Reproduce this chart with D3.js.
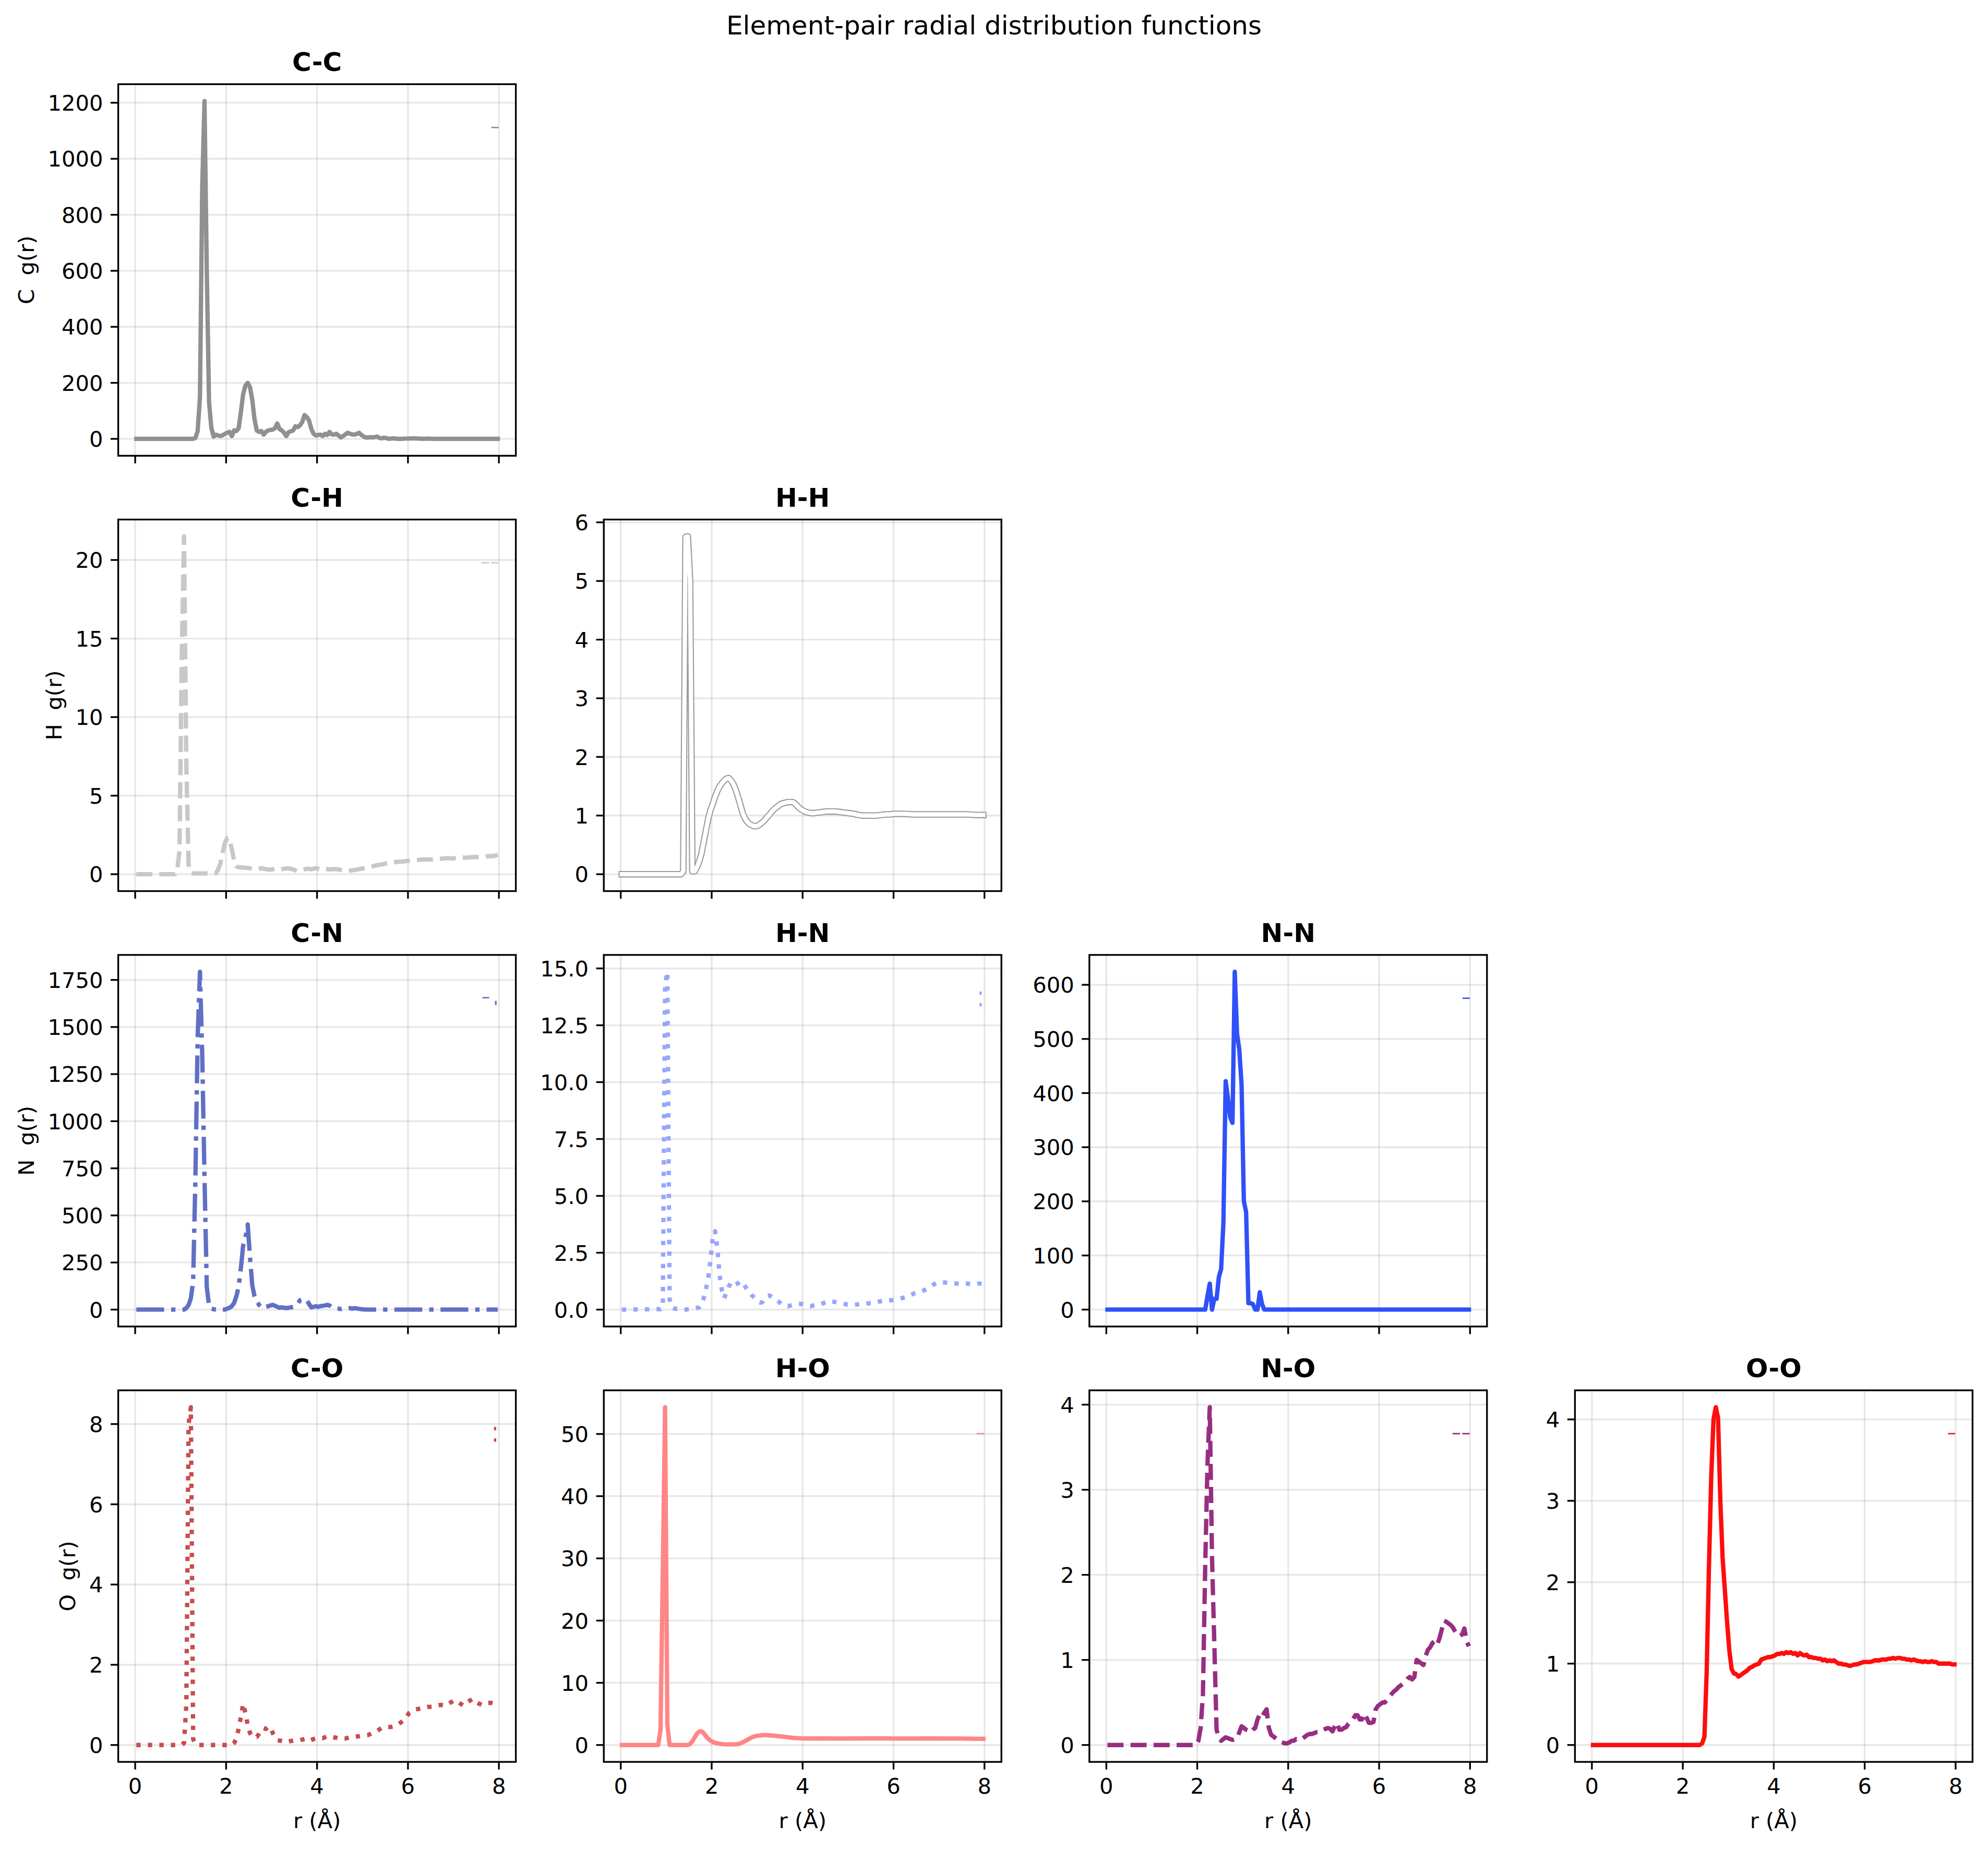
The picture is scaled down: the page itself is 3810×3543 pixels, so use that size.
<!DOCTYPE html>
<html><head><meta charset="utf-8">
<script src="https://cdn.jsdelivr.net/npm/d3@7"></script>
<style>
body{margin:0;background:#fff}
svg{display:block}
text{font-family:"DejaVu Sans",sans-serif}
</style>
</head><body>
<svg id="fig" width="3810" height="3543"></svg>
<script>
// ---------------- DATA ----------------
const elements = ["C", "H", "N", "O"];
const pairNames = ["C-C","C-H","H-H","C-N","H-N","N-N","C-O","H-O","N-O","O-O"];
const xTicks = [0, 2, 4, 6, 8];

// [r (Å), g(r)]
const gCC = [[0.025,0],[1.275,0],[1.325,3],[1.375,28],[1.425,150],[1.475,900],[1.525,1206],[1.575,600],[1.625,130],[1.675,40],[1.725,8],[1.775,15],[1.825,12],[1.875,10],[1.925,13],[1.975,18],[2.025,22],[2.075,25],[2.125,10],[2.175,30],[2.225,28],[2.275,38],[2.325,95],[2.375,160],[2.425,190],[2.475,200],[2.525,185],[2.575,140],[2.625,70],[2.675,30],[2.725,25],[2.775,28],[2.825,15],[2.875,25],[2.925,30],[2.975,32],[3.025,33],[3.075,38],[3.125,55],[3.175,35],[3.225,30],[3.275,22],[3.325,10],[3.375,24],[3.425,27],[3.475,30],[3.525,45],[3.575,42],[3.625,48],[3.675,60],[3.725,85],[3.775,78],[3.825,65],[3.875,35],[3.925,18],[3.975,12],[4.025,14],[4.075,15],[4.125,10],[4.175,18],[4.225,14],[4.275,25],[4.325,16],[4.375,15],[4.425,18],[4.475,12],[4.525,5],[4.575,10],[4.625,16],[4.675,22],[4.725,18],[4.775,16],[4.825,15],[4.875,18],[4.925,22],[4.975,14],[5.025,8],[5.075,5],[5.125,5],[5.175,6],[5.225,5],[5.275,7],[5.325,8],[5.375,3],[5.425,2],[5.475,4],[5.525,3],[5.575,0],[5.625,1],[5.675,2],[5.725,1],[5.775,0],[5.875,0],[5.925,1],[6.025,1],[6.125,2],[6.225,1],[6.325,0],[6.425,1],[6.525,0],[7.975,0]];

const gCH = [[0.025,0],[0.875,0],[0.925,0.3],[0.975,1.5],[1.025,14],[1.075,21.5],[1.125,7],[1.175,0.6],[1.225,0.1],[1.275,0.05],[1.775,0.05],[1.825,0.3],[1.875,0.7],[1.925,1.4],[1.975,2.0],[2.025,2.3],[2.075,2.25],[2.125,1.6],[2.175,0.9],[2.225,0.5],[2.275,0.45],[2.375,0.42],[2.475,0.4],[2.575,0.35],[2.675,0.3],[2.775,0.38],[2.875,0.32],[2.975,0.28],[3.075,0.35],[3.175,0.28],[3.275,0.35],[3.375,0.38],[3.475,0.3],[3.575,0.2],[3.675,0.25],[3.775,0.35],[3.875,0.32],[3.975,0.38],[4.075,0.3],[4.175,0.35],[4.275,0.3],[4.375,0.33],[4.475,0.3],[4.575,0.22],[4.675,0.2],[4.775,0.25],[4.875,0.3],[4.975,0.35],[5.075,0.4],[5.175,0.45],[5.275,0.55],[5.375,0.6],[5.475,0.65],[5.575,0.72],[5.675,0.75],[5.775,0.8],[5.875,0.8],[5.975,0.85],[6.075,0.88],[6.175,0.9],[6.275,0.92],[6.375,0.95],[6.475,0.93],[6.575,0.95],[6.675,0.97],[6.775,1.0],[6.875,1.02],[6.975,1.0],[7.075,1.05],[7.175,1.08],[7.275,1.05],[7.375,1.08],[7.475,1.1],[7.575,1.08],[7.675,1.12],[7.775,1.15],[7.875,1.15],[7.975,1.22]];

const gHH = [[0.025,0],[1.325,0],[1.375,0.05],[1.425,5.75],[1.475,5.76],[1.525,5.0],[1.575,0.05],[1.625,0.05],[1.675,0.12],[1.725,0.22],[1.775,0.35],[1.825,0.55],[1.875,0.75],[1.925,0.95],[1.975,1.1],[2.025,1.2],[2.075,1.32],[2.125,1.42],[2.175,1.5],[2.225,1.55],[2.275,1.6],[2.325,1.63],[2.375,1.64],[2.425,1.6],[2.475,1.54],[2.525,1.45],[2.575,1.33],[2.625,1.2],[2.675,1.06],[2.725,0.96],[2.775,0.9],[2.825,0.86],[2.875,0.84],[2.925,0.82],[2.975,0.82],[3.025,0.83],[3.075,0.86],[3.125,0.89],[3.175,0.93],[3.225,0.98],[3.275,1.02],[3.325,1.07],[3.375,1.11],[3.425,1.14],[3.475,1.17],[3.525,1.2],[3.575,1.21],[3.625,1.22],[3.675,1.23],[3.725,1.23],[3.775,1.23],[3.825,1.21],[3.875,1.17],[3.925,1.13],[3.975,1.1],[4.025,1.08],[4.075,1.06],[4.125,1.05],[4.225,1.04],[4.325,1.05],[4.425,1.06],[4.525,1.07],[4.625,1.07],[4.725,1.07],[4.825,1.06],[4.925,1.05],[5.025,1.04],[5.125,1.03],[5.225,1.01],[5.325,1.0],[5.425,1.0],[5.525,1.0],[5.625,1.0],[5.725,1.01],[5.825,1.02],[5.925,1.02],[6.025,1.03],[6.225,1.03],[6.425,1.02],[6.625,1.02],[6.825,1.02],[7.025,1.02],[7.225,1.02],[7.425,1.02],[7.625,1.02],[7.825,1.01],[7.975,1.01]];

const gCN = [[0.025,0],[1.075,0],[1.125,8],[1.175,25],[1.225,60],[1.275,150],[1.325,700],[1.375,1450],[1.425,1793],[1.475,1350],[1.525,700],[1.575,120],[1.625,20],[1.675,5],[1.725,2],[1.775,0],[1.975,0],[2.025,5],[2.075,10],[2.125,18],[2.175,35],[2.225,70],[2.275,120],[2.325,220],[2.375,340],[2.425,380],[2.475,452],[2.525,280],[2.575,130],[2.625,70],[2.675,45],[2.725,25],[2.775,12],[2.825,8],[2.875,15],[2.925,18],[2.975,22],[3.025,25],[3.075,20],[3.125,15],[3.175,10],[3.225,12],[3.275,10],[3.325,8],[3.375,10],[3.425,12],[3.475,15],[3.525,20],[3.575,30],[3.625,50],[3.675,55],[3.725,50],[3.775,50],[3.825,30],[3.875,12],[3.925,15],[3.975,18],[4.025,15],[4.075,18],[4.125,20],[4.175,22],[4.225,25],[4.275,22],[4.325,12],[4.375,8],[4.425,6],[4.475,5],[4.525,3],[4.575,5],[4.625,8],[4.675,6],[4.725,8],[4.775,5],[4.825,8],[4.875,6],[4.925,4],[4.975,2],[5.025,1],[5.075,0],[7.975,0]];

const gHN = [[0.025,0],[0.875,0.02],[0.925,0.1],[0.975,14.3],[1.025,14.85],[1.075,0.45],[1.125,0.1],[1.175,0.05],[1.225,0.03],[1.425,0],[1.625,0.05],[1.725,0.1],[1.825,0.5],[1.875,0.9],[1.925,1.4],[1.975,2.2],[2.025,3.2],[2.075,3.45],[2.125,2.7],[2.175,1.5],[2.225,0.85],[2.275,0.5],[2.325,0.75],[2.375,1.0],[2.425,1.2],[2.475,1.2],[2.525,1.1],[2.575,1.15],[2.625,1.25],[2.675,1.2],[2.725,1.05],[2.775,0.9],[2.825,0.8],[2.875,0.65],[2.925,0.55],[2.975,0.45],[3.025,0.35],[3.075,0.3],[3.125,0.35],[3.175,0.5],[3.225,0.6],[3.275,0.62],[3.325,0.55],[3.375,0.5],[3.425,0.42],[3.475,0.35],[3.525,0.25],[3.575,0.2],[3.675,0.15],[3.775,0.2],[3.875,0.25],[3.975,0.25],[4.075,0.2],[4.175,0.15],[4.275,0.2],[4.375,0.22],[4.475,0.3],[4.575,0.38],[4.675,0.35],[4.775,0.3],[4.875,0.28],[4.975,0.22],[5.075,0.2],[5.175,0.22],[5.275,0.25],[5.375,0.25],[5.475,0.28],[5.575,0.3],[5.675,0.35],[5.775,0.38],[5.875,0.4],[5.975,0.42],[6.075,0.45],[6.175,0.5],[6.275,0.55],[6.375,0.65],[6.475,0.72],[6.575,0.78],[6.675,0.85],[6.775,0.95],[6.875,1.1],[6.975,1.2],[7.075,1.2],[7.175,1.18],[7.275,1.15],[7.375,1.15],[7.475,1.12],[7.575,1.15],[7.675,1.13],[7.775,1.12],[7.875,1.15],[7.975,1.12]];

const gNN = [[0.025,0],[2.175,0],[2.225,25],[2.275,48],[2.325,0],[2.375,20],[2.425,20],[2.475,60],[2.525,75],[2.575,160],[2.625,422],[2.675,390],[2.725,355],[2.775,345],[2.825,624],[2.875,510],[2.925,480],[2.975,415],[3.025,200],[3.075,180],[3.125,12],[3.175,12],[3.225,10],[3.275,0],[3.325,0],[3.375,32],[3.425,10],[3.475,0],[7.975,0]];

const gCO = [[0.025,0],[1.025,0],[1.075,0.05],[1.125,1.0],[1.175,8.0],[1.225,8.42],[1.275,0.15],[1.325,0.02],[1.375,0],[2.125,0],[2.175,0.05],[2.225,0.15],[2.275,0.4],[2.325,0.7],[2.375,1.03],[2.425,0.8],[2.475,0.5],[2.525,0.3],[2.575,0.2],[2.625,0.2],[2.675,0.2],[2.725,0.28],[2.775,0.38],[2.825,0.42],[2.875,0.4],[2.925,0.45],[2.975,0.45],[3.025,0.3],[3.075,0.2],[3.125,0.12],[3.225,0.1],[3.325,0.07],[3.425,0.1],[3.525,0.12],[3.625,0.12],[3.725,0.15],[3.825,0.1],[3.925,0.15],[4.025,0.18],[4.125,0.17],[4.225,0.22],[4.325,0.2],[4.425,0.18],[4.525,0.15],[4.625,0.16],[4.725,0.2],[4.825,0.2],[4.925,0.22],[5.025,0.24],[5.125,0.25],[5.225,0.3],[5.325,0.35],[5.425,0.43],[5.525,0.45],[5.625,0.45],[5.725,0.48],[5.825,0.55],[5.925,0.62],[6.025,0.8],[6.125,0.88],[6.225,0.9],[6.325,0.92],[6.425,0.95],[6.525,0.95],[6.625,0.98],[6.725,1.0],[6.825,0.98],[6.925,1.05],[7.025,1.12],[7.125,1.05],[7.225,0.98],[7.325,1.08],[7.425,1.15],[7.525,1.05],[7.625,1.0],[7.725,1.05],[7.825,1.05],[7.925,1.02],[7.975,1.02]];

const gHO = [[0.025,0],[0.825,0],[0.875,2.5],[0.925,28],[0.975,54.3],[1.025,3.3],[1.075,0],[1.475,0],[1.525,0.15],[1.575,0.6],[1.625,1.2],[1.675,1.8],[1.725,2.15],[1.775,2.2],[1.825,1.9],[1.875,1.4],[1.925,1.0],[1.975,0.7],[2.025,0.5],[2.075,0.35],[2.175,0.2],[2.275,0.12],[2.375,0.1],[2.475,0.1],[2.575,0.15],[2.625,0.25],[2.675,0.4],[2.725,0.6],[2.775,0.8],[2.825,1.0],[2.875,1.2],[2.925,1.35],[2.975,1.45],[3.075,1.55],[3.175,1.6],[3.275,1.55],[3.375,1.5],[3.475,1.42],[3.575,1.35],[3.675,1.25],[3.775,1.15],[3.875,1.1],[3.975,1.07],[4.225,1.05],[4.525,1.05],[4.825,1.03],[5.125,1.05],[5.425,1.07],[5.725,1.08],[6.025,1.04],[6.325,1.04],[6.625,1.05],[6.925,1.05],[7.225,1.04],[7.525,1.03],[7.825,1.0],[7.975,1.0]];

const gNO = [[0.025,0],[1.975,0],[2.025,0.05],[2.075,0.2],[2.125,0.6],[2.175,2.1],[2.225,3.3],[2.275,3.97],[2.325,2.2],[2.375,1.2],[2.425,0.18],[2.475,0.08],[2.525,0.05],[2.575,0.07],[2.625,0.09],[2.675,0.08],[2.725,0.07],[2.775,0.06],[2.825,0.07],[2.875,0.08],[2.925,0.15],[2.975,0.22],[3.025,0.2],[3.075,0.18],[3.125,0.17],[3.175,0.15],[3.225,0.18],[3.275,0.2],[3.325,0.3],[3.375,0.36],[3.425,0.33],[3.475,0.38],[3.525,0.42],[3.575,0.2],[3.625,0.12],[3.675,0.1],[3.725,0.08],[3.775,0.06],[3.825,0.04],[3.875,0.03],[3.925,0.02],[3.975,0.02],[4.025,0.03],[4.075,0.05],[4.125,0.05],[4.175,0.07],[4.225,0.06],[4.275,0.07],[4.325,0.08],[4.375,0.1],[4.425,0.12],[4.475,0.13],[4.525,0.13],[4.575,0.14],[4.625,0.15],[4.675,0.15],[4.725,0.17],[4.775,0.18],[4.825,0.19],[4.875,0.2],[4.925,0.19],[4.975,0.16],[5.025,0.22],[5.075,0.26],[5.125,0.18],[5.175,0.18],[5.225,0.2],[5.275,0.21],[5.325,0.25],[5.375,0.28],[5.425,0.3],[5.475,0.35],[5.525,0.35],[5.575,0.3],[5.625,0.3],[5.675,0.37],[5.725,0.32],[5.775,0.26],[5.825,0.26],[5.875,0.27],[5.925,0.42],[5.975,0.46],[6.025,0.48],[6.075,0.5],[6.125,0.5],[6.175,0.53],[6.225,0.57],[6.275,0.6],[6.325,0.63],[6.375,0.65],[6.425,0.68],[6.475,0.7],[6.525,0.72],[6.575,0.75],[6.625,0.78],[6.675,0.8],[6.725,0.77],[6.775,0.8],[6.825,1.0],[6.875,0.98],[6.925,0.96],[6.975,0.94],[7.025,1.05],[7.075,1.12],[7.125,1.15],[7.175,1.2],[7.225,1.22],[7.275,1.18],[7.325,1.25],[7.375,1.35],[7.425,1.46],[7.475,1.45],[7.525,1.43],[7.575,1.41],[7.625,1.38],[7.675,1.33],[7.725,1.3],[7.775,1.28],[7.825,1.3],[7.875,1.37],[7.925,1.22],[7.975,1.16]];

const gOO = [[0.025,0],[2.375,0],[2.425,0.02],[2.475,0.1],[2.525,0.9],[2.575,2.2],[2.625,3.3],[2.675,4.0],[2.725,4.15],[2.775,4.02],[2.825,3.0],[2.875,2.3],[2.925,1.9],[2.975,1.5],[3.025,1.15],[3.075,0.93],[3.125,0.88],[3.175,0.87],[3.225,0.84],[3.275,0.86],[3.325,0.88],[3.375,0.9],[3.425,0.92],[3.475,0.95],[3.525,0.96],[3.575,0.98],[3.625,0.99],[3.675,1.0],[3.725,1.05],[3.775,1.06],[3.825,1.07],[3.875,1.08],[3.925,1.08],[3.975,1.09],[4.025,1.1],[4.075,1.12],[4.125,1.12],[4.175,1.13],[4.225,1.12],[4.275,1.14],[4.325,1.13],[4.375,1.14],[4.425,1.12],[4.475,1.13],[4.525,1.1],[4.575,1.13],[4.625,1.11],[4.675,1.1],[4.725,1.11],[4.775,1.08],[4.825,1.08],[4.875,1.07],[4.925,1.07],[4.975,1.06],[5.025,1.06],[5.075,1.04],[5.125,1.05],[5.175,1.03],[5.225,1.04],[5.275,1.03],[5.325,1.04],[5.375,1.02],[5.425,1.0],[5.475,1.0],[5.525,0.99],[5.575,0.99],[5.625,0.98],[5.675,0.97],[5.725,0.98],[5.775,0.99],[5.825,0.99],[5.875,1.0],[5.925,1.01],[5.975,1.02],[6.025,1.02],[6.075,1.02],[6.125,1.02],[6.175,1.03],[6.225,1.04],[6.275,1.04],[6.325,1.04],[6.375,1.05],[6.425,1.05],[6.475,1.05],[6.525,1.06],[6.575,1.06],[6.625,1.07],[6.675,1.06],[6.725,1.07],[6.775,1.07],[6.825,1.06],[6.875,1.06],[6.925,1.05],[6.975,1.05],[7.025,1.04],[7.075,1.05],[7.125,1.04],[7.175,1.03],[7.225,1.03],[7.275,1.02],[7.325,1.03],[7.375,1.02],[7.425,1.02],[7.475,1.03],[7.525,1.02],[7.575,1.02],[7.625,1.0],[7.675,1.0],[7.725,1.0],[7.775,1.0],[7.825,1.0],[7.875,1.0],[7.925,0.99],[7.975,0.99]];

// y tick values per panel
const yTicksCC = [0,200,400,600,800,1000,1200];
const yTicksCH = [0,5,10,15,20];
const yTicksHH = [0,1,2,3,4,5,6];
const yTicksCN = [0,250,500,750,1000,1250,1500,1750];
const yTicksHN = [0,2.5,5,7.5,10,12.5,15];
const yTicksNN = [0,100,200,300,400,500,600];
const yTicksCO = [0,2,4,6,8];
const yTicksHO = [0,10,20,30,40,50];
const yTicksNO = [0,1,2,3,4];
const yTicksOO = [0,1,2,3,4];

// ---------------- LAYOUT / STYLE ----------------
const PX = 300/72;             // points -> px at 300 dpi
const LW = 2*PX;
const DASH = {
  solid: null,
  dashed: [3.7*LW, 1.6*LW].join(","),
  dashdot: [6.4*LW, 1.6*LW, 1.0*LW, 1.6*LW].join(","),
  dotted: [1.0*LW, 1.65*LW].join(",")
};
const colLeft = [226.6, 1157.2, 2087.8, 3018.4];
const rowTop = [161.3, 995.5, 1829.8, 2664.1];
const AW = 762, AH = 712;

const panels = [
  {name:"C-C", row:0, col:0, data:gCC, ticks:yTicksCC, color:"#909090", style:"solid"},
  {name:"C-H", row:1, col:0, data:gCH, ticks:yTicksCH, color:"#c8c8c8", style:"dashed"},
  {name:"H-H", row:1, col:1, data:gHH, ticks:yTicksHH, color:"#ffffff", style:"outlined"},
  {name:"C-N", row:2, col:0, data:gCN, ticks:yTicksCN, color:"#6070c4", style:"dashdot"},
  {name:"H-N", row:2, col:1, data:gHN, ticks:yTicksHN, color:"#97a7fb", style:"dotted", fmt:d3.format(".1f")},
  {name:"N-N", row:2, col:2, data:gNN, ticks:yTicksNN, color:"#3050f8", style:"solid"},
  {name:"C-O", row:3, col:0, data:gCO, ticks:yTicksCO, color:"#c74e4e", style:"dotted"},
  {name:"H-O", row:3, col:1, data:gHO, ticks:yTicksHO, color:"#ff8686", style:"solid"},
  {name:"N-O", row:3, col:2, data:gNO, ticks:yTicksNO, color:"#972e82", style:"dashed"},
  {name:"O-O", row:3, col:3, data:gOO, ticks:yTicksOO, color:"#ff0d0d", style:"solid"}
];

// small legend-handle marks (pixel offsets in axes)
const handleMarks = {
  solid:   [{t:"line", x1:715, y1:83, x2:729, y2:83}],
  dashed:  [{t:"line", x1:696, y1:83, x2:729, y2:83, dash:"14.5,4"}],
  dashdot: [{t:"line", x1:698, y1:82, x2:711, y2:82}, {t:"rect", x:722, y:88, w:3.2, h:8}],
  dotted:  [{t:"rect", x:720, y:70, w:4.3, h:6.6}, {t:"rect", x:720, y:92, w:4.3, h:6.6}],
  outlined:[]
};

const FS = 41.67, TFS = 50;
const svg = d3.select("#fig");

svg.append("text")
  .attr("x", 1905).attr("y", 66)
  .attr("text-anchor", "middle")
  .attr("font-size", TFS)
  .text("Element-pair radial distribution functions");

const allR = panels.flatMap(p => p.data.map(d => d[0]));
const [rMin, rMax] = d3.extent(allR);
const rPad = 0.05 * (rMax - rMin);

panels.forEach(p => {
  const x0 = colLeft[p.col], y0 = rowTop[p.row];
  const g = svg.append("g").attr("transform", `translate(${x0},${y0})`);
  const x = d3.scaleLinear().domain([rMin - rPad, rMax + rPad]).range([0, AW]);
  const [ymin, ymax] = d3.extent(p.data, d => d[1]);
  const yp = 0.05 * (ymax - ymin);
  const y = d3.scaleLinear().domain([ymin - yp, ymax + yp]).range([AH, 0]);

  // grid
  g.append("g").selectAll("line").data(xTicks).join("line")
    .attr("x1", d => x(d)).attr("x2", d => x(d)).attr("y1", 0).attr("y2", AH)
    .attr("stroke", "#b0b0b0").attr("stroke-opacity", 0.3).attr("stroke-width", 0.8*PX);
  g.append("g").selectAll("line").data(p.ticks).join("line")
    .attr("y1", d => y(d)).attr("y2", d => y(d)).attr("x1", 0).attr("x2", AW)
    .attr("stroke", "#b0b0b0").attr("stroke-opacity", 0.3).attr("stroke-width", 0.8*PX);

  // data line
  const line = d3.line().x(d => x(d[0])).y(d => y(d[1]));
  if (p.style === "outlined") {
    g.append("path").datum(p.data).attr("d", line)
      .attr("fill", "none").attr("stroke", "#9a9a9a").attr("stroke-width", 3*PX)
      .attr("stroke-linejoin", "round").attr("stroke-linecap", "square");
    g.append("path").datum(p.data).attr("d", line)
      .attr("fill", "none").attr("stroke", p.color).attr("stroke-width", LW)
      .attr("stroke-linejoin", "round").attr("stroke-linecap", "square");
  } else {
    const path = g.append("path").datum(p.data).attr("d", line)
      .attr("fill", "none").attr("stroke", p.color).attr("stroke-width", LW)
      .attr("stroke-linejoin", "round")
      .attr("stroke-linecap", p.style === "solid" ? "square" : "butt");
    if (DASH[p.style]) path.attr("stroke-dasharray", DASH[p.style]);
  }

  // handle marks
  (handleMarks[p.style] || []).forEach(m => {
    if (m.t === "line") {
      const l = g.append("line").attr("x1", m.x1).attr("y1", m.y1).attr("x2", m.x2).attr("y2", m.y2)
        .attr("stroke", p.color).attr("stroke-width", 2.7);
      if (m.dash) l.attr("stroke-dasharray", m.dash);
    } else {
      g.append("rect").attr("x", m.x).attr("y", m.y).attr("width", m.w).attr("height", m.h)
        .attr("fill", p.color);
    }
  });

  // spines
  g.append("rect").attr("x", 0).attr("y", 0).attr("width", AW).attr("height", AH)
    .attr("fill", "none").attr("stroke", "#000").attr("stroke-width", 0.8*PX);

  // x ticks
  g.append("g").selectAll("line").data(xTicks).join("line")
    .attr("x1", d => x(d)).attr("x2", d => x(d)).attr("y1", AH).attr("y2", AH + 3.5*PX)
    .attr("stroke", "#000").attr("stroke-width", 0.8*PX);
  if (p.row === 3) {
    g.append("g").selectAll("text").data(xTicks).join("text")
      .attr("x", d => x(d)).attr("y", AH + 61)
      .attr("text-anchor", "middle").attr("font-size", FS)
      .text(d => d3.format("d")(d));
    g.append("text").attr("x", AW/2).attr("y", AH + 127)
      .attr("text-anchor", "middle").attr("font-size", FS).text("r (Å)");
  }

  // y ticks
  g.append("g").selectAll("line").data(p.ticks).join("line")
    .attr("y1", d => y(d)).attr("y2", d => y(d)).attr("x1", 0).attr("x2", -3.5*PX)
    .attr("stroke", "#000").attr("stroke-width", 0.8*PX);
  const fmt = p.fmt || d3.format("d");
  const tl = g.append("g").selectAll("text").data(p.ticks).join("text")
    .attr("x", -7*PX).attr("y", d => y(d) + 15.2)
    .attr("text-anchor", "end").attr("font-size", FS)
    .text(d => fmt(d));

  // title
  g.append("text").attr("x", AW/2).attr("y", -6*PX)
    .attr("text-anchor", "middle").attr("font-size", TFS).attr("font-weight", "bold")
    .text(p.name);

  // y label on first column
  if (p.col === 0) {
    let maxW = 0;
    tl.each(function(){ maxW = Math.max(maxW, this.getComputedTextLength()); });
    const lx = -7*PX - maxW - 4*PX - 0.236*FS;
    g.append("text")
      .attr("transform", `translate(${lx},${AH/2}) rotate(-90)`)
      .attr("text-anchor", "middle").attr("font-size", FS)
      .style("white-space", "pre")
      .text(elements[p.row] + "  g(r)");
  }
});
</script>
</body></html>
